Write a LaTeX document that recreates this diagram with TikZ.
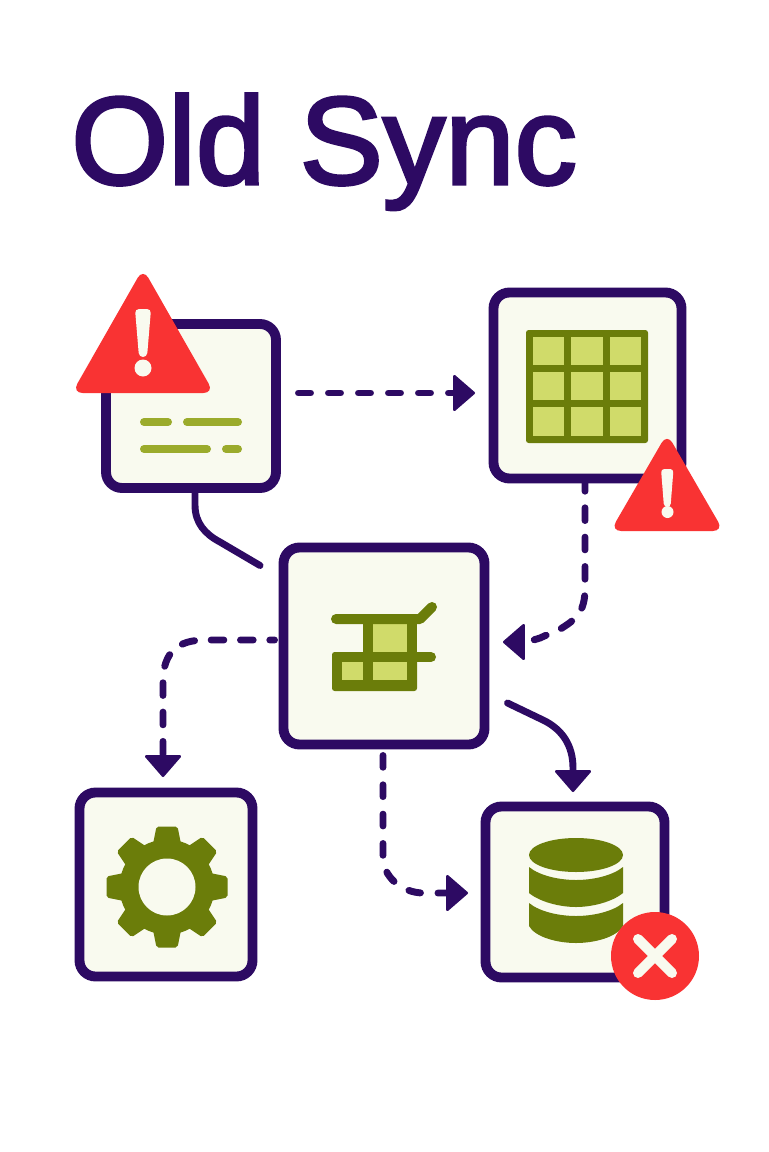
\documentclass[tikz,border=0pt]{standalone}
\usepackage{fontspec}
\setmainfont[FakeBold=2.6]{Liberation Sans}
\usetikzlibrary{arrows.meta,calc}
\definecolor{ink}{HTML}{2D0A63}
\definecolor{cream}{HTML}{F9FAEF}
\definecolor{olive}{HTML}{6B7D0A}
\definecolor{lime}{HTML}{D0DB6A}
\definecolor{alarm}{HTML}{F93333}
\definecolor{textline}{HTML}{9BAB2C}
\tikzset{
  x=0.75pt,y=-0.75pt,
  card/.style n args={2}{draw=ink,fill=cream,line width=7.4pt,rounded corners=12pt,
    minimum width=#1*0.75pt,minimum height=#2*0.75pt,inner sep=0pt,outer sep=0pt},
  flow/.style={draw=ink,line width=5.2pt,line cap=round},
  dotted flow/.style={flow,dash pattern=on 9.5pt off 12.5pt},
  head/.style={-{Triangle[length=17pt,width=29pt,round,line width=2pt]}},
  mark line/.style={draw=textline,line width=6pt,line cap=round},
  redbg/.style={fill=alarm,rounded corners=8pt},
  cell/.style={fill=lime},
  olivebar/.style={draw=olive,line width=7.5pt,line cap=round}
}
\begin{document}
\begin{tikzpicture}
\useasboundingbox[fill=white] (0,0) rectangle (768,1152);
\node[anchor=base west,text=ink,inner sep=0pt,font=\fontsize{93.5}{100}\selectfont] (title) at (71,184) {Old Sync};
% cards
\node[card={170}{164}] (a) at (191,406) {};
\node[card={188}{186}] (b) at (587.5,385.5) {};
\node[card={201}{197}] (c) at (384,646) {};
\node[card={173}{184}] (d) at (166,884.5) {};
\node[card={179}{171}] (e) at (575,892) {};
% connectors
\draw[flow,dash pattern=on 9pt off 13.5pt,head] ($(a.east)+(22.5,-13)$) -- ($(b.west)+(-18.5,7.5)$);
\draw[dotted flow,head] ($(b.south)+(-2.5,0)$) -- (585,588)
   .. controls (585,610) and (578,618) .. (562,628) -- (540,638) -- (527,642) -- ($(c.east)+(18.5,-4)$);
\draw[flow] ($(a.south)+(4,0)$) -- (195,505)
   .. controls (195,523) and (205,534) .. (220,542) -- ($(c.west)+(-23.5,-80.5)$);
\draw[dotted flow,dash phase=6pt,head] ($(c.west)+(-9,-6)$) -- (205,640)
   .. controls (178,640) and (163,652) .. (163,682) -- ($(d.north)+(-3,-15.5)$);
\draw[flow,head] ($(c.east)+(23,57)$) -- (545,721)
   .. controls (562,730) and (573,745) .. (573,768) -- ($(e.north)+(-2,-14.5)$);
\draw[flow,dash pattern=on 8.8pt off 13.2pt,head] ($(c.south)+(-1,11)$) -- (383,858)
   .. controls (383,875) and (400,893) .. (424,893) -- ($(e.west)+(-17.5,1)$);
% card a glyphs
\draw[mark line] (144,422) -- (168,422);
\draw[mark line] (187,422) -- (238,422);
\draw[mark line] (144,449) -- (207,449);
\draw[mark line] (226,449) -- (238,449);
% warning a, with the card corner cleared behind it
\fill[white] (95,310) rectangle (143,393);
\fill[redbg] (143,268.5) -- (214,393) -- (72,393) -- cycle;
\fill[cream,rounded corners=3pt] (135,309) -- (151,309) -- (147,357) -- (139,357) -- cycle;
\fill[cream] (143,368) circle[radius=8.5];
% table
\fill[olive,rounded corners=2pt] (526,330) rectangle (648,443);
\foreach \xa/\xb in {533/564,571/603,610/641}
  \foreach \ya/\yb in {337/365,372/400,407/436}
    \fill[cell] (\xa,\ya) rectangle (\xb,\yb);
% warning b
\fill[redbg] (667,433.5) -- (723.5,531) -- (610.5,531) -- cycle;
\fill[cream,rounded corners=2.5pt] (661,469) -- (673.5,469) -- (670.5,507) -- (664,507) -- cycle;
\fill[cream] (667.5,512) circle[radius=6];
% card c glyph
\fill[cell] (373,624) rectangle (407,652);
\fill[olive,rounded corners=2pt] (332,652) rectangle (417,691);
\fill[olive] (363,614) rectangle (373,655);
\fill[olive] (407,614) rectangle (417,655);
\draw[olivebar,line join=round] (336,619) -- (420,619) -- (432,607);
\draw[olivebar] (415,657) -- (431,657);
\fill[cell] (342,662) rectangle (363,680);
\fill[cell] (373,662) rectangle (407,680);
% gear
\fill[olive] (167,887) circle[radius=47.5];
\foreach \ang in {0,45,...,315}
  \fill[olive,shift={(167,887)},rotate=\ang,rounded corners=1.5pt]
    (-14,-43) -- (-10.5,-60.5) -- (10.5,-60.5) -- (14,-43) -- cycle;
\fill[cream] (167,887) circle[radius=28.5];
% database
\fill[olive] (576,855) ellipse[x radius=47,y radius=17];
\fill[olive] (529,867) .. controls (540,876) and (560,880) .. (576,880)
   .. controls (592,880) and (612,876) .. (623,867) -- (623,893)
   .. controls (612,902) and (592,907) .. (576,907)
   .. controls (560,907) and (540,902) .. (529,893) -- cycle;
\fill[olive] (529,903) .. controls (540,912) and (560,916) .. (576,916)
   .. controls (592,916) and (612,912) .. (623,903) -- (623,926)
   .. controls (617,937) and (595,943) .. (576,943)
   .. controls (557,943) and (535,937) .. (529,926) -- cycle;
% error badge
\fill[alarm] (655,956) circle[radius=44];
\draw[cream,line width=7.5pt,line cap=round] (638,939) -- (672,973);
\draw[cream,line width=7.5pt,line cap=round] (672,939) -- (638,973);
\end{tikzpicture}
\end{document}
